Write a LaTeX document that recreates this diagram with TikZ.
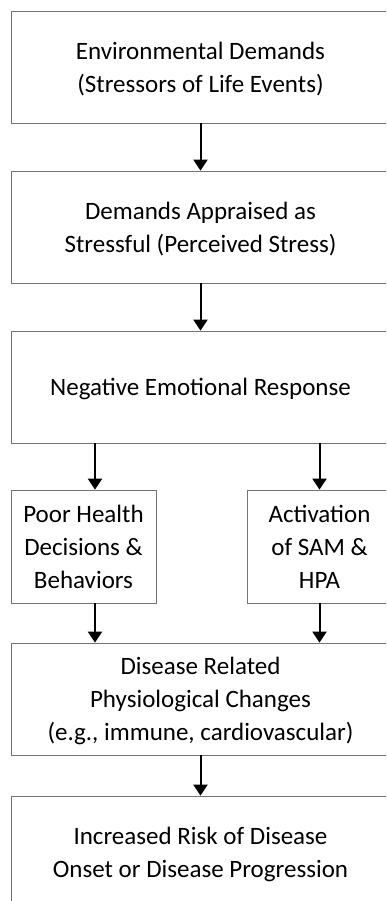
\documentclass[tikz,border=0pt]{standalone}
\usepackage{fontspec}
\setmainfont{Carlito}
\usepackage{tikz}
\usetikzlibrary{positioning, arrows.meta, calc}
\tikzset{
	stagebox/.style={draw=black!55, line width=0.8pt, inner sep=0pt, align=center,
		font=\fontsize{25}{33}\selectfont}
}
\tikzset{
	bigbox/.style={stagebox, minimum width=379pt, minimum height=112pt, text depth=-8pt}
}
\tikzset{
	smallbox/.style={stagebox, minimum width=145pt, minimum height=113pt}
}
\tikzset{
	flowarrow/.style={line width=2pt, -{Triangle[width=14pt,length=11pt]}}
}

\begin{document}
\begin{tikzpicture}[x=1pt, y=-1pt]
      \useasboundingbox (0,0) rectangle (386,901);
      \clip (0,0) rectangle (386,901);
      \node[bigbox] (envdem) at (200.5,67) {Environmental Demands\\(Stressors of Life Events)};
      \node[bigbox] (appraise) at (200.5,227) {Demands Appraised as\\Stressful (Perceived Stress)};
      \node[bigbox] (negemo) at (200.5,387) {Negative Emotional Response};
      \node[smallbox] (poorhealth) at (83.5,546.5) {Poor Health\\Decisions \&\\Behaviors};
      \node[smallbox] (samhpa) at (319.5,546.5) {Activation\\of SAM \&\\HPA};
      \node[bigbox] (physio) at (200.5,699) {Disease Related\\Physiological Changes\\(e.g., immune, cardiovascular)};
      \node[bigbox] (risk) at (200.5,852) {Increased Risk of Disease\\Onset or Disease Progression};
      \draw[flowarrow] (envdem.south) -- (appraise.north);
      \draw[flowarrow] (appraise.south) -- (negemo.north);
      \draw[flowarrow] ([xshift=11.5pt]poorhealth.north |- negemo.south) -- ([xshift=11.5pt]poorhealth.north);
      \draw[flowarrow] (samhpa.north |- negemo.south) -- (samhpa.north);
      \draw[flowarrow] ([xshift=11.5pt]poorhealth.south) -- ([xshift=11.5pt]poorhealth.south |- physio.north);
      \draw[flowarrow] (samhpa.south) -- (samhpa.south |- physio.north);
      \draw[flowarrow] (physio.south) -- (risk.north);
    \end{tikzpicture}
\end{document}
